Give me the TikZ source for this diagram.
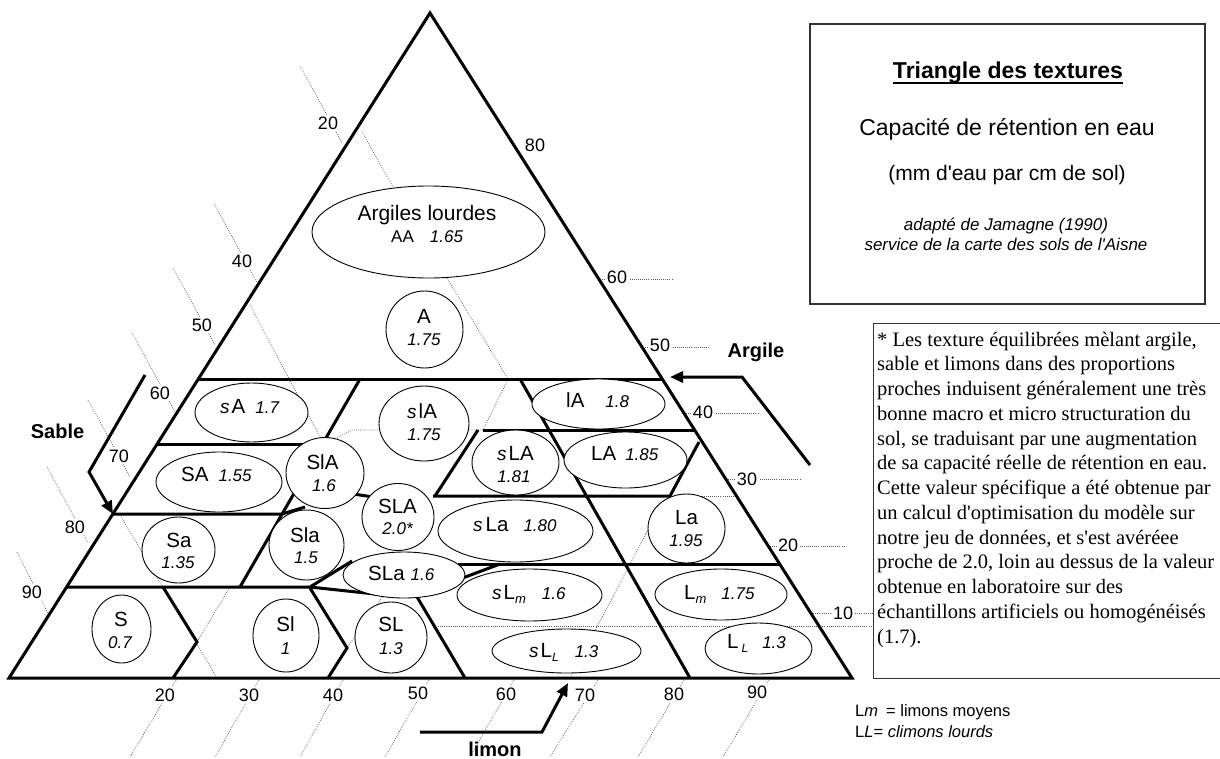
\documentclass[tikz,border=0pt]{standalone}
\usepackage{fontspec}
\setmainfont[Ligatures=TeXOff]{Liberation Sans}
\newfontfamily\tnr[Ligatures=TeXOff]{Liberation Serif}
\usetikzlibrary{arrows.meta,shapes.geometric,calc}
\newcommand\fL{\fontsize{20.5}{24}\selectfont\upshape}
\newcommand\fN{\fontsize{17}{20}\selectfont\itshape}
\newcommand\fS{\fontsize{19}{22}\selectfont\itshape}
\newcommand\fT{\fontsize{18}{21}\selectfont}
\newcommand\fB{\fontsize{20}{24}\selectfont\bfseries}
\newcommand\subm{\raisebox{-4pt}{\fontsize{13}{15}\selectfont\itshape m}}
\newcommand\subL{\raisebox{-4pt}{\fontsize{12}{14}\selectfont\itshape L}}
\tikzset{
 bnd/.style={line width=3pt, line join=miter},
 zone/.style={draw, ellipse, line width=0.9pt, fill=white, inner sep=0pt},
 grid/.style={black!65, line width=0.7pt, dash pattern=on 0.8pt off 1.3pt},
 tick/.style={fill=white, inner sep=1.5pt, font=\fT},
 lab/.style={anchor=base, inner sep=0pt},
 labw/.style={anchor=base west, inner sep=0pt},
 arr/.style={line width=3pt, -{Triangle[length=13pt,width=11pt]}},
 frame/.style={black!80, line width=1.2pt},
}
\begin{document}
\begin{tikzpicture}[x=1pt,y=-1pt]
\useasboundingbox (0,0) rectangle (1220,758);
% ---------- grid (dotted) lines ----------
\draw[grid] (300,66) -- (342,143);
\draw[grid] (214,204) -- (257,282);
\draw[grid] (173,268) -- (215,345);
\draw[grid] (132,333) -- (175,412);
\draw[grid] (88,400) -- (130,477);
\draw[grid] (47,467) -- (88,543);
\draw[grid] (17,552) -- (48,613);
\draw[grid] (598,279) -- (672,279);
\draw[grid] (641,347) -- (710,347);
\draw[grid] (684,413) -- (758,413);
\draw[grid] (726,479) -- (800,479);
\draw[grid] (768,546) -- (845,546);
\draw[grid] (811,613) -- (873,613);
\draw[grid] (176,680) -- (130,757);
\draw[grid] (259,680) -- (215,757);
\draw[grid] (343,680) -- (300,757);
\draw[grid] (429,680) -- (385,757);
\draw[grid] (514,680) -- (470,757);
\draw[grid] (598,680) -- (550,757);
\draw[grid] (684,680) -- (638,757);
\draw[grid] (769,680) -- (723,757);
\draw[grid] (362,132) -- (393,187);
\draw[grid] (250,305) -- (320,437);
\draw[grid] (447,278) -- (508,379) -- (483,430);
\draw[grid] (337,438) -- (352,430) -- (483,430);
\draw[grid] (120,515) -- (217,678);
\draw[grid] (230,587) -- (197,642);
\draw[grid] (347,648) -- (383,596);
\draw[grid] (570,678) -- (648,530);
\draw[grid] (438,626) -- (873,626);
\draw[grid] (670,496) -- (736,496);
% ---------- thick boundaries ----------
\draw[bnd] (9,678) -- (430,13) -- (852,678) -- cycle;
\draw[bnd] (198,379) -- (662,379);
\draw[bnd] (157,444) -- (325,444);
\draw[bnd] (483,430) -- (695,430);
\draw[bnd] (113,514) -- (282,514) -- (305,507);
\draw[bnd] (340,492) -- (380,498);
\draw[bnd] (433,496) -- (670,496) -- (699,442);
\draw[bnd] (67,587) -- (310,587) -- (352,561);
\draw[bnd] (310,587) -- (375,594);
\draw[bnd] (458,564) -- (780,564);
\draw[bnd] (460,579) -- (500,564);
\draw[bnd] (360,379) -- (240,587);
\draw[bnd] (478,430) -- (435,496);
\draw[bnd] (520,379) -- (690,678);
\draw[bnd] (410,585) -- (465,678);
\draw[bnd] (163,587) -- (197,642) -- (173,678);
\draw[bnd] (310,588) -- (347,648) -- (328,678);
% ---------- zones ----------
\node[zone, minimum width=233pt, minimum height=92pt] (eAA) at (428.5,232) {};
\node[zone, minimum width=77pt, minimum height=77pt] (eA) at (424.5,329.5) {};
\node[zone, minimum width=113pt, minimum height=59pt] (esA) at (251.5,412.5) {};
\node[zone, minimum width=90pt, minimum height=75pt] (eslA) at (424,423.5) {};
\node[zone, minimum width=133pt, minimum height=50pt] (elA) at (598.5,404) {};
\node[zone, minimum width=87pt, minimum height=65pt] (esLA) at (515.5,462.5) {};
\node[zone, minimum width=123pt, minimum height=56pt] (eLA) at (625.5,460) {};
\node[zone, minimum width=126pt, minimum height=60pt] (eSA) at (219,482) {};
\node[zone, minimum width=78pt, minimum height=71pt] (eSlA) at (325,473) {};
\node[zone, minimum width=72pt, minimum height=67pt] (eSLA) at (398,517) {};
\node[zone, minimum width=155pt, minimum height=62pt] (esLa) at (515.5,531) {};
\node[zone, minimum width=77pt, minimum height=69pt] (eLa) at (686.5,528.5) {};
\node[zone, minimum width=73pt, minimum height=66pt] (eSa) at (178.5,550) {};
\node[zone, minimum width=75pt, minimum height=70pt] (eSla) at (306.5,545) {};
\node[zone, minimum width=122pt, minimum height=46pt] (eSLa) at (404,575) {};
\node[zone, minimum width=145pt, minimum height=52pt] (esLm) at (529.5,595) {};
\node[zone, minimum width=132pt, minimum height=51pt] (eLm) at (721,594.5) {};
\node[zone, minimum width=149pt, minimum height=44pt] (esLL) at (566.5,651) {};
\node[zone, minimum width=107pt, minimum height=51pt] (eLL) at (758.5,648.5) {};
\node[zone, minimum width=59pt, minimum height=68pt] (eS) at (121.5,629) {};
\node[zone, minimum width=66pt, minimum height=73pt] (eSl) at (286,635.5) {};
\node[zone, minimum width=72pt, minimum height=71pt] (eSL) at (391,637.5) {};
% ---------- zone texts ----------
\node[lab] (tAA1) at (427,220) {\fontsize{21}{24}\selectfont Argiles lourdes};
\node[labw] (tAA2) at (391,242) {\fontsize{17}{20}\selectfont AA\hspace{16pt}\fN 1.65};
\node[lab] (tA1) at (424,323) {\fL A};
\node[lab] (tA2) at (424,345) {\fN 1.75};
\node[labw] (tsA) at (220,413) {\fS s\hspace{2pt}\fL A\hspace{10pt}\fN 1.7};
\node[labw] (tslA1) at (407,418) {\fS s\hspace{2pt}\fL lA};
\node[lab] (tslA2) at (424,440) {\fN 1.75};
\node[labw] (tlA) at (566,407) {\fL lA\hspace{21pt}\fN 1.8};
\node[labw] (tsLA1) at (497,460) {\fS s\hspace{2pt}\fL LA};
\node[lab] (tsLA2) at (514,482) {\fN 1.81};
\node[labw] (tLA) at (591,460) {\fL LA\hspace{9pt}\fN 1.85};
\node[labw] (tSA) at (181,481) {\fL SA\hspace{10pt}\fN 1.55};
\node[lab] (tSlA1) at (322.5,469) {\fL SlA};
\node[lab] (tSlA2) at (324,491) {\fN 1.6};
\node[lab] (tSLA1) at (397.5,513) {\fL SLA};
\node[lab] (tSLA2) at (397.5,534) {\fN 2.0*};
\node[labw] (tsLa) at (473,531) {\fS s\hspace{3pt}\fL La\hspace{15pt}\fN 1.80};
\node[lab] (tLa1) at (686.5,524) {\fL La};
\node[lab] (tLa2) at (686,546) {\fN 1.95};
\node[lab] (tSa1) at (179,547) {\fL Sa};
\node[lab] (tSa2) at (178,568) {\fN 1.35};
\node[lab] (tSla1) at (305,542) {\fL Sla};
\node[lab] (tSla2) at (306,563) {\fN 1.5};
\node[labw] (tSLa) at (368,580) {\fL SLa\hspace{6pt}\fN 1.6};
\node[labw] (tsLm) at (492,599) {\fS s\hspace{2pt}\fL L\subm\hspace{16pt}\fN 1.6};
\node[labw] (tLm) at (684,599) {\fL L\subm\hspace{15pt}\fN 1.75};
\node[labw] (tsLL) at (529,657) {\fS s\hspace{2pt}\fL L\subL\hspace{16pt}\fN 1.3};
\node[labw] (tLL) at (727,648) {\fL L\hspace{3pt}\subL\hspace{14pt}\fN 1.3};
\node[lab] (tS1) at (121,626) {\fL S};
\node[lab] (tS2) at (120,648) {\fN 0.7};
\node[lab] (tSl1) at (285.5,631) {\fL Sl};
\node[lab] (tSl2) at (285.5,654) {\fN 1};
\node[lab] (tSL1) at (391,631) {\fL SL};
\node[lab] (tSL2) at (391,654) {\fN 1.3};
% ---------- tick labels ----------
\node[tick] (sa20) at (328,123) {20};
\node[tick] (sa40) at (242,261) {40};
\node[tick] (sa50) at (202,325) {50};
\node[tick] (sa60) at (160,393) {60};
\node[tick] (sa70) at (119,456) {70};
\node[tick] (sa80) at (75,527) {80};
\node[tick] (sa90) at (32,592) {90};
\node[tick] (ar80) at (535,145) {80};
\node[tick] (ar60) at (617,277) {60};
\node[tick] (ar50) at (660,345) {50};
\node[tick] (ar40) at (703,412) {40};
\node[tick] (ar30) at (747,479) {30};
\node[tick] (ar20) at (788,545) {20};
\node[tick] (ar10) at (843,613) {10};
\node[tick] (li20) at (165,695) {20};
\node[tick] (li30) at (249,695) {30};
\node[tick] (li40) at (333,695) {40};
\node[tick] (li50) at (418,693) {50};
\node[tick] (li60) at (506,694) {60};
\node[tick] (li70) at (585,695) {70};
\node[tick] (li80) at (674,694) {80};
\node[tick] (li90) at (757,692) {90};
% ---------- axis names and arrows ----------
\node[lab] (sable) at (57.5,438) {\fB Sable};
\node[lab] (argile) at (756,357) {\fB Argile};
\node[lab] (limon) at (495,756) {\fB limon};
\coordinate (sab0) at (145,375); \coordinate (sab1) at (89,472); \coordinate (sab2) at (113,514);
\draw[arr] (sab0) -- (sab1) -- (sab2);
\coordinate (arg0) at (810,465); \coordinate (arg1) at (742,377); \coordinate (arg2) at (670,377);
\draw[arr] (arg0) -- (arg1) -- (arg2);
\coordinate (lim0) at (420,732); \coordinate (lim1) at (542,732); \coordinate (lim2) at (568,683);
\draw[arr] (lim0) -- (lim1) -- (lim2);
% ---------- title box ----------
\draw[frame] (810,24) rectangle (1205,304);
\node[lab] (title) at (1008,78) {\fontsize{23}{26}\selectfont\bfseries Triangle des textures};
\draw[line width=1.6pt] ($(title.base west)+(0,5)$) -- ($(title.base east)+(0,5)$);
\node[lab] (cap) at (1007,135) {\fontsize{23}{26}\selectfont Capacité de rétention en eau};
\node[lab] (unit) at (1007,180) {\fontsize{21}{24}\selectfont (mm d'eau par cm de sol)};
\node[lab] (src1) at (1006,230) {\fontsize{17}{20}\selectfont\itshape adapté de Jamagne (1990)};
\node[lab] (src2) at (1006,250) {\fontsize{17}{20}\selectfont\itshape service de la carte des sols de l'Aisne};
% ---------- note box ----------
\draw[frame, line width=1pt] (1222,323) -- (873,323) -- (873,678) -- (1222,678);
\node[anchor=base west, inner sep=0pt] (note) at (877,346) {\tnr\fontsize{20.5}{24.75}\selectfont\vtop{%
\hbox{* Les texture équilibrées mèlant argile,}
\hbox{sable et limons dans des proportions}
\hbox{proches induisent généralement une très}
\hbox{bonne macro et micro structuration du}
\hbox{sol, se traduisant par une augmentation}
\hbox{de sa capacité réelle de rétention en eau.}
\hbox{Cette valeur spécifique a été obtenue par}
\hbox{un calcul d'optimisation du modèle sur}
\hbox{notre jeu de données, et s'est avéréee}
\hbox{proche de 2.0, loin au dessus de la valeur}
\hbox{obtenue en laboratoire sur des}
\hbox{échantillons artificiels ou homogénéisés}
\hbox{(1.7).}}};
% ---------- legend ----------
\node[labw] (leg1) at (855,716) {\fontsize{16.5}{20}\selectfont L\textit{m}\hspace{8pt}= limons moyens};
\node[labw] (leg2) at (855,737) {\fontsize{16.5}{20}\selectfont L\textit{L}= \textit{climons lourds}};
\end{tikzpicture}
\end{document}
